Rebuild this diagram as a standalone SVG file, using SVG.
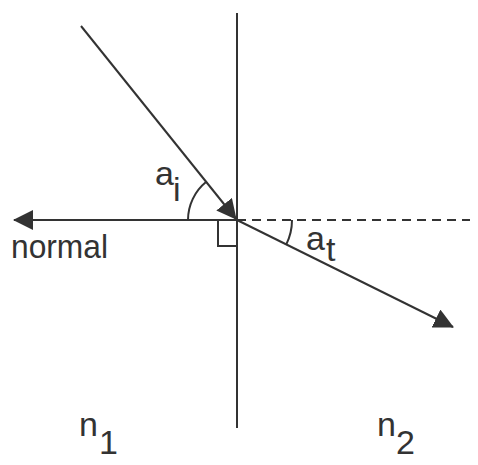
<svg xmlns="http://www.w3.org/2000/svg" width="478" height="465" viewBox="0 0 478 465">
<style>
.ln{stroke:#333;stroke-width:2;fill:none}
.dash{stroke-dasharray:9 6}
.t{font-family:"Liberation Sans",Arial,sans-serif;font-size:34px;fill:#333}
</style>
<defs>
<marker id="ah" viewBox="0 0 20 20" refX="19" refY="10" markerWidth="20" markerHeight="20" markerUnits="userSpaceOnUse" orient="auto">
<path d="M0,0 L20,10 L0,20 z" fill="#333"/>
</marker>
</defs>
<rect width="478" height="465" fill="#fff"/>
<g id="connectors">
<line class="ln" x1="237" y1="13" x2="237" y2="428"/>
<line class="ln" x1="237" y1="220" x2="14" y2="220" marker-end="url(#ah)"/>
<line class="ln dash" x1="237" y1="220" x2="470" y2="220"/>
<line class="ln" x1="81" y1="26" x2="236" y2="219" marker-end="url(#ah)"/>
<line class="ln" x1="237" y1="220" x2="453" y2="327" marker-end="url(#ah)"/>
<path class="ln" d="M188,220 A49,49 0 0,1 206.3,181.8"/>
<path class="ln" d="M292,220 A55,55 0 0,1 286.2,244.6"/>
<rect class="ln" x="218" y="220" width="19" height="26"/>
</g>
<g id="label-ai"><text class="t" x="155" y="185">a</text><text class="t" x="173" y="201" font-size="30">i</text></g>
<g id="label-at"><text class="t" x="306" y="250">a</text><text class="t" x="326" y="261" font-size="30">t</text></g>
<g id="label-normal"><text class="t" x="11" y="258" textLength="97" lengthAdjust="spacingAndGlyphs">normal</text></g>
<g id="label-n1"><text class="t" x="79" y="436">n</text><text class="t" x="99" y="454" font-size="30">1</text></g>
<g id="label-n2"><text class="t" x="377" y="436">n</text><text class="t" x="396" y="454" font-size="30">2</text></g>
</svg>
